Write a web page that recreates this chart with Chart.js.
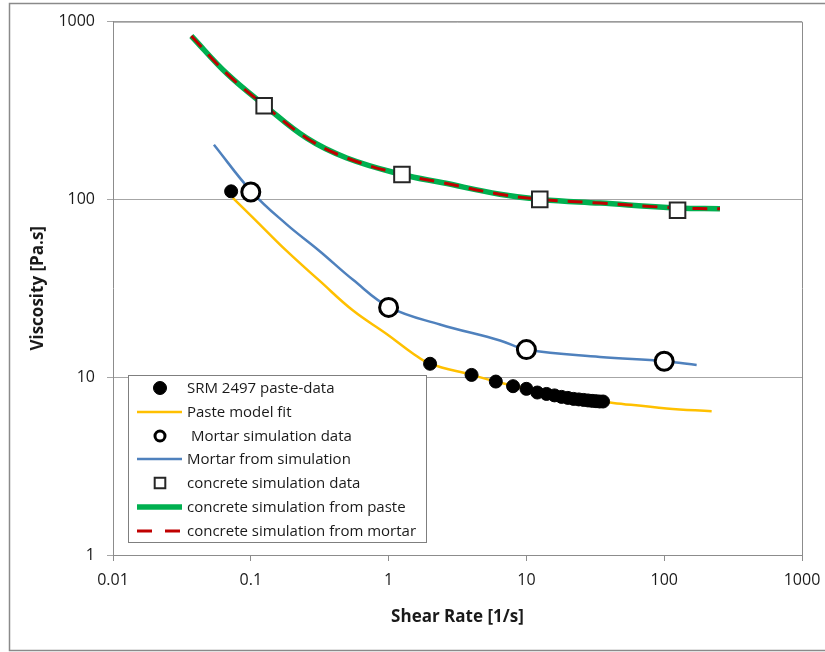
<!DOCTYPE html>
<html>
<head>
<meta charset="utf-8">
<script src="https://cdn.jsdelivr.net/npm/chart.js@4"></script>
<style>
  html, body { margin: 0; padding: 0; background: #fff; }
  #viscChart { display: block; }
</style>
</head>
<body>
<canvas id="viscChart" width="825" height="652"></canvas>
<script>
// SRM 2497 measured paste data
const pasteRate = [0.072, 2, 4, 6, 8, 10, 12, 14, 16, 18, 20, 22, 24, 26, 28, 30, 32, 34, 36];
const pasteVisc = [111, 11.9, 10.3, 9.45, 8.9, 8.6, 8.2, 8.05, 7.9, 7.75, 7.65, 7.55, 7.5, 7.45, 7.4, 7.36, 7.33, 7.3, 7.3];

// paste model fit
const fitRate = [0.074, 0.104, 0.182, 0.315, 0.552, 0.968, 1.5, 2.0, 4.0, 6.0, 10, 20, 42.7, 104, 221];
const fitVisc = [102, 78.8, 51.3, 34.9, 23.7, 17.5, 13.6, 11.9, 10.3, 9.45, 8.6, 7.65, 7.17, 6.67, 6.44];

// mortar
const mortarDataRate = [0.1, 1, 10, 100];
const mortarDataVisc = [110, 24.7, 14.3, 12.3];
const mortarRate = [0.054, 0.102, 0.182, 0.315, 0.552, 1.02, 2.36, 6.43, 10, 34.2, 100, 172];
const mortarVisc = [203, 110, 72.4, 51.3, 35.3, 24.7, 19.8, 16.1, 14.3, 13.0, 12.3, 11.7];

// concrete
const concDataRate = [0.125, 1.25, 12.5, 125];
const concDataVisc = [336, 138, 100, 87];
const concRate = [0.037, 0.067, 0.127, 0.255, 0.497, 1.25, 2.48, 6.43, 12.8, 34.2, 126, 254];
const concVisc = [830, 510, 336, 221, 171, 138, 124, 107, 100, 95.3, 89.5, 88.5];

const xTicks = [0.01, 0.1, 1, 10, 100, 1000];
const yTicks = [1, 10, 100, 1000];

const toPoints = (xs, ys) => xs.map((x, i) => ({ x: x, y: ys[i] }));

const axisGray = '#8c8c8c';
const textColor = '#1a1a1a';

Chart.defaults.font.family = '"Open Sans", sans-serif';
Chart.defaults.color = textColor;

// outer frame + top/right border of the plot area
const frame = {
    id: 'frame',
    beforeDraw(chart) {
        const ctx = chart.ctx;
        ctx.save();
        ctx.fillStyle = '#fff';
        ctx.fillRect(0, 0, chart.width, chart.height);
        ctx.strokeStyle = '#8a8a8a';
        ctx.lineWidth = 1.5;
        ctx.strokeRect(9.5, 3.5, chart.width + 20, chart.height - 5);
        ctx.restore();
    },
    afterDraw(chart) {
        const { ctx, chartArea: a } = chart;
        ctx.save();
        ctx.strokeStyle = axisGray;
        ctx.lineWidth = 1;
        ctx.beginPath();
        ctx.moveTo(a.left, a.top + 0.5);
        ctx.lineTo(a.right + 0.5, a.top + 0.5);
        ctx.lineTo(a.right + 0.5, a.bottom);
        ctx.stroke();
        ctx.restore();
    }
};

// boxed legend inside the plot, bottom left
const legendBox = {
    id: 'legendBox',
    afterDraw(chart) {
        const ctx = chart.ctx;
        const left = 128.5, top = 375.5, w = 298, h = 167;
        ctx.save();
        ctx.fillStyle = '#fff';
        ctx.fillRect(left, top, w, h);
        ctx.strokeStyle = '#7f7f7f';
        ctx.lineWidth = 1;
        ctx.strokeRect(left, top, w, h);
        ctx.font = '15px "Open Sans"';
        ctx.textBaseline = 'middle';
        chart.data.datasets.forEach((ds, i) => {
            const y = Math.round(top + 12.5 + i * 23.8);
            if (ds.showLine) {
                ctx.strokeStyle = ds.borderColor;
                ctx.lineWidth = ds.borderWidth;
                ctx.setLineDash(ds.borderDash ? [15, 13] : []);
                ctx.beginPath();
                ctx.moveTo(137, y);
                ctx.lineTo(182, y);
                ctx.stroke();
                ctx.setLineDash([]);
            } else {
                ctx.fillStyle = ds.pointBackgroundColor;
                ctx.strokeStyle = ds.pointBorderColor;
                ctx.lineWidth = ds.pointBorderWidth;
                Chart.helpers.drawPoint(ctx, {
                    pointStyle: ds.pointStyle,
                    radius: ds.legendRadius,
                    borderWidth: ds.pointBorderWidth,
                    rotation: 0
                }, 160, y);
            }
            ctx.fillStyle = textColor;
            ctx.fillText(ds.label, 187, y + 1);
        });
        ctx.restore();
    }
};

new Chart(document.getElementById('viscChart'), {
    type: 'scatter',
    data: {
        datasets: [
            {
                label: 'SRM 2497 paste-data',
                data: toPoints(pasteRate, pasteVisc),
                showLine: false,
                pointStyle: 'circle',
                pointRadius: 6.5,
                pointBackgroundColor: '#000',
                pointBorderColor: '#000',
                pointBorderWidth: 1,
                legendRadius: 6.5,
                order: 0
            },
            {
                label: 'Paste model fit',
                data: toPoints(fitRate, fitVisc),
                showLine: true,
                borderColor: '#FFC000',
                borderWidth: 2.5,
                pointRadius: 0,
                tension: 0.4,
                order: 4
            },
            {
                label: ' Mortar simulation data',
                data: toPoints(mortarDataRate, mortarDataVisc),
                showLine: false,
                pointStyle: 'circle',
                pointRadius: 9,
                pointBackgroundColor: '#fff',
                pointBorderColor: '#000',
                pointBorderWidth: 3,
                legendRadius: 5,
                order: 0
            },
            {
                label: 'Mortar from simulation',
                data: toPoints(mortarRate, mortarVisc),
                showLine: true,
                borderColor: '#4F81BD',
                borderWidth: 2.5,
                pointRadius: 0,
                tension: 0.4,
                order: 4
            },
            {
                label: 'concrete simulation data',
                data: toPoints(concDataRate, concDataVisc),
                showLine: false,
                pointStyle: 'rect',
                pointRadius: 11,
                pointBackgroundColor: '#fff',
                pointBorderColor: '#262626',
                pointBorderWidth: 2,
                legendRadius: 7.5,
                order: 0
            },
            {
                label: 'concrete simulation from paste',
                data: toPoints(concRate, concVisc),
                showLine: true,
                borderColor: '#00B050',
                borderWidth: 5.5,
                pointRadius: 0,
                tension: 0.4,
                order: 3
            },
            {
                label: 'concrete simulation from mortar',
                data: toPoints(concRate, concVisc),
                showLine: true,
                borderColor: '#C00000',
                borderWidth: 3,
                borderDash: [15, 10],
                pointRadius: 0,
                tension: 0.4,
                order: 2
            }
        ]
    },
    options: {
        responsive: false,
        animation: false,
        events: [],
        layout: { padding: { left: 0, top: 19, right: 23, bottom: 0 } },
        plugins: {
            legend: { display: false },
            tooltip: { enabled: false }
        },
        scales: {
            x: {
                type: 'logarithmic',
                min: 0.01,
                max: 1000,
                afterBuildTicks: (scale) => { scale.ticks = xTicks.map(v => ({ value: v })); },
                afterFit: (scale) => {
                    scale.height = 97;
                    scale.paddingLeft = 0;
                    scale.paddingRight = 0;
                },
                grid: { drawOnChartArea: false, color: axisGray, tickLength: 6 },
                border: { color: axisGray },
                ticks: {
                    callback: (v) => String(v),
                    font: { size: 16 },
                    color: textColor,
                    padding: 10,
                    maxRotation: 0
                },
                title: {
                    display: true,
                    text: 'Shear Rate [1/s]',
                    font: { size: 17, weight: 'bold' },
                    color: textColor,
                    padding: { top: 0, bottom: 25 }
                }
            },
            y: {
                type: 'logarithmic',
                min: 1,
                max: 1000,
                afterBuildTicks: (scale) => { scale.ticks = yTicks.map(v => ({ value: v })); },
                afterFit: (scale) => { scale.width = 113; },
                grid: { color: '#a6a6a6', tickLength: 6 },
                border: { color: axisGray },
                ticks: {
                    callback: (v) => String(v),
                    font: { size: 16 },
                    color: textColor,
                    padding: 12
                },
                title: {
                    display: true,
                    text: 'Viscosity [Pa.s]',
                    font: { size: 17, weight: 'bold' },
                    color: textColor,
                    padding: { top: 28, bottom: 0 }
                }
            }
        }
    },
    plugins: [frame, legendBox]
});
</script>
</body>
</html>
